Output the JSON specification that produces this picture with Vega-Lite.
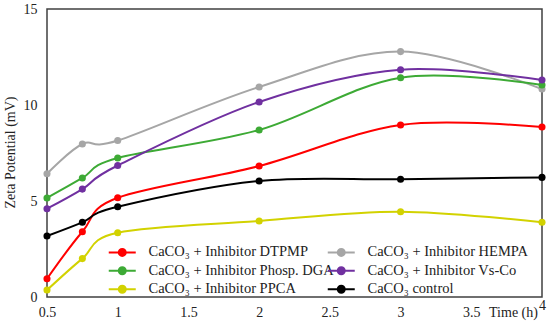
{
  "$schema": "https://vega.github.io/schema/vega-lite/v6.json",
  "autosize": {"type": "none"},
  "width": 495,
  "height": 288,
  "padding": {"left": 47, "top": 9, "right": 8, "bottom": 33},
  "background": "white",
  "config": {
    "view": {"stroke": "#404040", "strokeWidth": 1.5},
    "font": "Liberation Serif"
  },
  "data": {"values": [
    {"t": 0.5, "v": 0.95, "s": "CaCO₃ + Inhibitor DTPMP"},
    {"t": 0.75, "v": 3.4, "s": "CaCO₃ + Inhibitor DTPMP"},
    {"t": 1, "v": 5.17, "s": "CaCO₃ + Inhibitor DTPMP"},
    {"t": 2, "v": 6.82, "s": "CaCO₃ + Inhibitor DTPMP"},
    {"t": 3, "v": 8.96, "s": "CaCO₃ + Inhibitor DTPMP"},
    {"t": 4, "v": 8.85, "s": "CaCO₃ + Inhibitor DTPMP"},
    {"t": 0.5, "v": 6.42, "s": "CaCO₃ + Inhibitor HEMPA"},
    {"t": 0.75, "v": 7.97, "s": "CaCO₃ + Inhibitor HEMPA"},
    {"t": 1, "v": 8.15, "s": "CaCO₃ + Inhibitor HEMPA"},
    {"t": 2, "v": 10.94, "s": "CaCO₃ + Inhibitor HEMPA"},
    {"t": 3, "v": 12.78, "s": "CaCO₃ + Inhibitor HEMPA"},
    {"t": 4, "v": 10.83, "s": "CaCO₃ + Inhibitor HEMPA"},
    {"t": 0.5, "v": 5.16, "s": "CaCO₃ + Inhibitor Phosp. DGA"},
    {"t": 0.75, "v": 6.2, "s": "CaCO₃ + Inhibitor Phosp. DGA"},
    {"t": 1, "v": 7.24, "s": "CaCO₃ + Inhibitor Phosp. DGA"},
    {"t": 2, "v": 8.7, "s": "CaCO₃ + Inhibitor Phosp. DGA"},
    {"t": 3, "v": 11.42, "s": "CaCO₃ + Inhibitor Phosp. DGA"},
    {"t": 4, "v": 11.04, "s": "CaCO₃ + Inhibitor Phosp. DGA"},
    {"t": 0.5, "v": 4.6, "s": "CaCO₃ + Inhibitor Vs-Co"},
    {"t": 0.75, "v": 5.62, "s": "CaCO₃ + Inhibitor Vs-Co"},
    {"t": 1, "v": 6.85, "s": "CaCO₃ + Inhibitor Vs-Co"},
    {"t": 2, "v": 10.16, "s": "CaCO₃ + Inhibitor Vs-Co"},
    {"t": 3, "v": 11.84, "s": "CaCO₃ + Inhibitor Vs-Co"},
    {"t": 4, "v": 11.3, "s": "CaCO₃ + Inhibitor Vs-Co"},
    {"t": 0.5, "v": 0.36, "s": "CaCO₃ + Inhibitor PPCA"},
    {"t": 0.75, "v": 2.0, "s": "CaCO₃ + Inhibitor PPCA"},
    {"t": 1, "v": 3.35, "s": "CaCO₃ + Inhibitor PPCA"},
    {"t": 2, "v": 3.96, "s": "CaCO₃ + Inhibitor PPCA"},
    {"t": 3, "v": 4.44, "s": "CaCO₃ + Inhibitor PPCA"},
    {"t": 4, "v": 3.89, "s": "CaCO₃ + Inhibitor PPCA"},
    {"t": 0.5, "v": 3.18, "s": "CaCO₃  control"},
    {"t": 0.75, "v": 3.89, "s": "CaCO₃  control"},
    {"t": 1, "v": 4.7, "s": "CaCO₃  control"},
    {"t": 2, "v": 6.04, "s": "CaCO₃  control"},
    {"t": 3, "v": 6.13, "s": "CaCO₃  control"},
    {"t": 4, "v": 6.23, "s": "CaCO₃  control"}
  ]},
  "encoding": {
    "x": {
      "field": "t", "type": "quantitative",
      "scale": {"domain": [0.5, 4], "nice": false, "zero": false},
      "axis": {
        "values": [0.5, 1, 1.5, 2, 2.5, 3, 3.5, 4],
        "format": "~g",
        "grid": false, "ticks": false, "domain": false,
        "labelFont": "Liberation Serif", "labelFontSize": 14, "labelColor": "#222",
        "labelPadding": 8,
        "labelBaseline": {"condition": {"test": "datum.value == 4", "value": "middle"}, "value": "top"},
        "labelFlush": false,
        "title": "Time (h)", "titleFont": "Liberation Serif", "titleFontSize": 14,
        "titleFontWeight": "normal", "titleColor": "#222",
        "titleX": 466, "titleY": 15, "titleAlign": "center", "titleBaseline": "middle"
      }
    },
    "y": {
      "field": "v", "type": "quantitative",
      "scale": {"domain": [0, 15], "nice": false},
      "axis": {
        "values": [0, 5, 10, 15],
        "grid": false, "ticks": false, "domain": false,
        "labelFont": "Liberation Serif", "labelFontSize": 14, "labelColor": "#222",
        "labelPadding": 10,
        "title": "Zeta Potential (mV)", "titleFont": "Liberation Serif", "titleFontSize": 14,
        "titleFontWeight": "normal", "titleColor": "#222",
        "titleX": -37, "titleY": 143, "titleAngle": 270, "titleAlign": "center", "titleBaseline": "middle"
      }
    },
    "color": {
      "field": "s", "type": "nominal",
      "scale": {
        "domain": ["CaCO₃ + Inhibitor DTPMP", "CaCO₃ + Inhibitor HEMPA", "CaCO₃ + Inhibitor Phosp. DGA", "CaCO₃ + Inhibitor Vs-Co", "CaCO₃ + Inhibitor PPCA", "CaCO₃  control"],
        "range": ["#FF0000", "#A6A6A6", "#3DAA35", "#7030A0", "#D2D200", "#000000"]
      },
      "legend": {
        "orient": "none", "legendX": 68, "legendY": 236,
        "direction": "horizontal", "columns": 2, "title": null,
        "columnPadding": -21, "rowPadding": 2.5, "padding": 0,
        "labelFont": "Liberation Serif", "labelFontSize": 14.5, "labelColor": "#222",
        "labelLimit": 0,
        "labelOffset": 19, "symbolSize": 100, "symbolStrokeWidth": 2,
        "symbolType": "M-2.7,0H-0.7A0.7,0.7,0,1,1,0.7,0A0.7,0.7,0,1,1,-0.7,0M0.7,0H2.7",
        "encode": {"symbols": {"update": {
          "fill": {"scale": "color", "field": "value"},
          "stroke": {"scale": "color", "field": "value"}
        }}}
      }
    }
  },
  "layer": [
    {"mark": {"type": "line", "interpolate": "cardinal", "strokeWidth": 2}},
    {"mark": {"type": "point", "filled": true, "size": 50, "opacity": 1}}
  ]
}
